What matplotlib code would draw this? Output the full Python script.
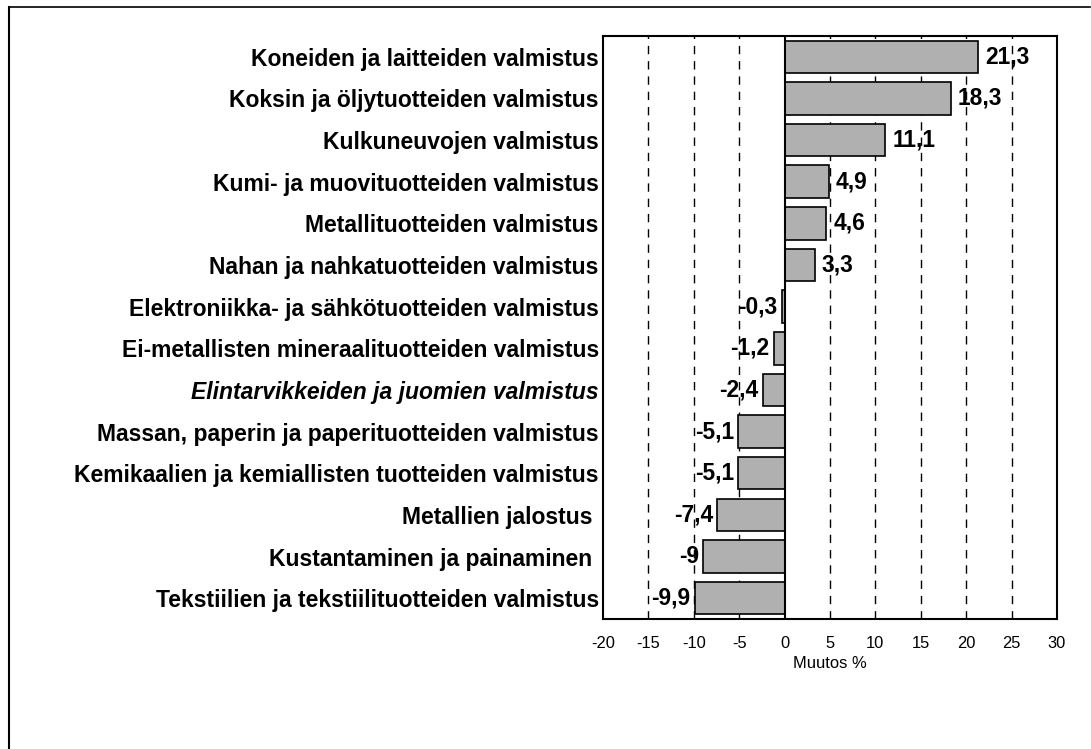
import matplotlib.pyplot as plt
from matplotlib.lines import Line2D
from matplotlib import font_manager

# toimialat ja muutos-% (ylhäältä alas)
categories = [
    "Koneiden ja laitteiden valmistus",
    "Koksin ja öljytuotteiden valmistus",
    "Kulkuneuvojen valmistus",
    "Kumi- ja muovituotteiden valmistus",
    "Metallituotteiden valmistus",
    "Nahan ja nahkatuotteiden valmistus",
    "Elektroniikka- ja sähkötuotteiden valmistus",
    "Ei-metallisten mineraalituotteiden valmistus",
    "Elintarvikkeiden ja juomien valmistus",
    "Massan, paperin ja paperituotteiden valmistus",
    "Kemikaalien ja kemiallisten tuotteiden valmistus",
    "Metallien jalostus ",
    "Kustantaminen ja painaminen ",
    "Tekstiilien ja tekstiilituotteiden valmistus",
]
values = [21.3, 18.3, 11.1, 4.9, 4.6, 3.3, -0.3, -1.2, -2.4, -5.1, -5.1, -7.4, -9, -9.9]
xticks = [-20, -15, -10, -5, 0, 5, 10, 15, 20, 25, 30]

plt.rcParams['font.family'] = ['Liberation Sans', 'DejaVu Sans']
names = {f.name for f in font_manager.fontManager.ttflist}
narrow = 'Liberation Sans Narrow' if 'Liberation Sans Narrow' in names else 'Liberation Sans'
nsize = 1.0 if narrow == 'Liberation Sans Narrow' else 0.82

fig = plt.figure(figsize=(10.91, 7.49), dpi=100)
ax = fig.add_axes([0.5527, 0.1736, 0.4161, 0.7784])

ypos = list(range(len(categories)))
ax.barh(ypos, values, height=0.78, color='#b0b0b0', edgecolor='black', linewidth=1.2, zorder=3)

for x in xticks[1:-1]:
    if x == 0:
        ax.axvline(0, color='black', linewidth=1.5, zorder=4)
    else:
        ax.axvline(x, color='black', linewidth=1.0, linestyle=(0, (6, 5)), zorder=1)

for y, v in zip(ypos, values):
    txt = ("%g" % v).replace('.', ',')
    if v >= 0:
        ax.annotate(txt, (v, y), xytext=(7, 0), textcoords='offset pixels', family=narrow,
                    ha='left', va='center', fontsize=20 * nsize, fontweight='bold', zorder=5)
    else:
        ax.annotate(txt, (v, y), xytext=(-4, 0), textcoords='offset pixels', family=narrow,
                    ha='right', va='center', fontsize=20 * nsize, fontweight='bold', zorder=5)

ax.set_xlim(-20, 30)
ax.set_ylim(len(categories) - 0.5, -0.5)
ax.set_xticks(xticks)
ax.set_xticklabels([str(t) for t in xticks], fontsize=14.5 * nsize, family=narrow)
ax.set_yticks(ypos)
ax.set_yticklabels(categories, fontsize=16.5, fontweight='bold')
for lbl in ax.get_yticklabels():
    if lbl.get_text().startswith("Elintarvikkeiden"):
        lbl.set_fontstyle('italic')
ax.tick_params(axis='y', length=0, pad=3)
ax.tick_params(axis='x', length=0, pad=12)
ax.set_xlabel("Muutos %", fontsize=14.5 * nsize, family=narrow, labelpad=4)

for s in ax.spines.values():
    s.set_linewidth(1.5)
    s.set_color('black')

# ulkokehys: vain ylä- ja vasen reuna
fig.add_artist(Line2D([0.0085, 0.999], [0.990, 0.990], color='black', linewidth=1.2, transform=fig.transFigure))
fig.add_artist(Line2D([0.0085, 0.0085], [0.0, 0.990], color='black', linewidth=1.5, transform=fig.transFigure))

fig.savefig("out.png", dpi=100)
